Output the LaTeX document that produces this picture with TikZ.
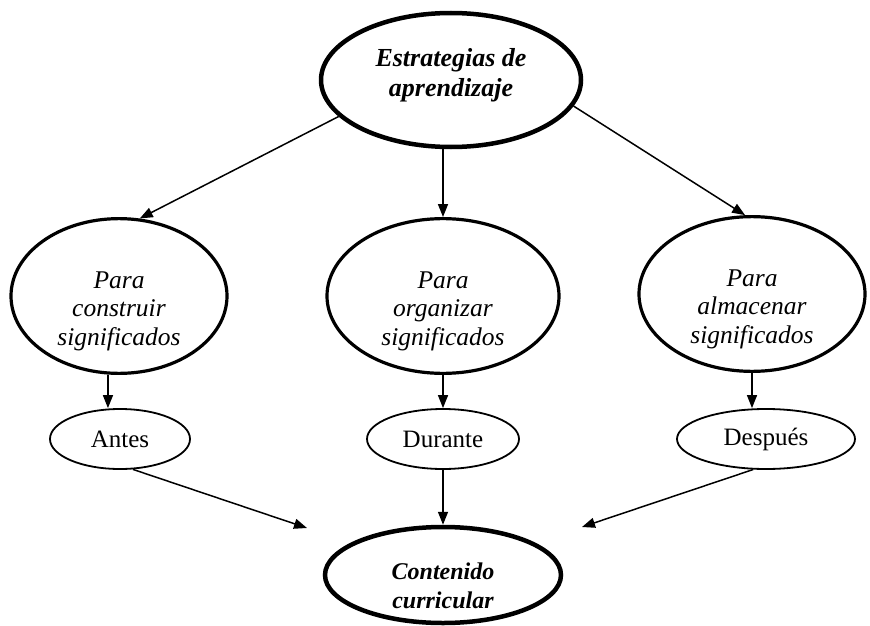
\documentclass[tikz,border=0pt]{standalone}
\usepackage{fontspec}
\setmainfont{Liberation Serif}
\usetikzlibrary{shapes.geometric,arrows.meta}

\tikzset{
  bigell/.style={draw, ellipse, line width=4.5pt, inner sep=0pt, align=center,
    font=\fontsize{26}{29.5}\selectfont\bfseries\itshape},
  midell/.style={draw, ellipse, line width=3.2pt, inner sep=0pt, align=center,
    minimum height=132pt, font=\fontsize{25.5}{28.5}\selectfont\itshape},
  smallell/.style={draw, ellipse, line width=1.8pt, inner sep=0pt,
    minimum height=60pt, font=\fontsize{25}{30}\selectfont},
  arr/.style={-{Triangle[length=13pt,width=10pt]}, line width=1.5pt}
}

\begin{document}
\begin{tikzpicture}[x=1pt,y=-1pt]
    \useasboundingbox (0,0) rectangle (870,626);
    \node[bigell, minimum width=260pt, minimum height=134pt] (estr) at (451,80) {Estrategias de\\aprendizaje\rule[-15pt]{0pt}{15pt}};
    \node[midell, minimum width=216pt] (constr) at (119,296) {\rule{0pt}{47pt}Para\\construir\\significados};
    \node[midell, minimum width=232pt] (organ) at (443,296) {\rule{0pt}{47pt}Para\\organizar\\significados};
    \node[midell, minimum width=226pt] (almac) at (752,294) {\rule{0pt}{47pt}Para\\almacenar\\significados};
    \node[smallell, minimum width=140pt] (antes) at (120,439) {Antes};
    \node[smallell, minimum width=152pt] (durante) at (443,439) {Durante};
    \node[smallell, minimum width=178pt] (desp) at (766,439) {Después};
    \node[bigell, minimum width=236pt, minimum height=96pt, font=\fontsize{24}{29}\selectfont\bfseries\itshape] (cont) at (443,575) {\rule{0pt}{38pt}Contenido\\curricular};
    \coordinate (finl) at (307,528);
    \coordinate (finr) at (582,527);
    \draw[arr] (estr.198) -- (constr.75);
    \draw[arr] (estr.south -| organ.north) -- (organ.north);
    \draw[arr] (estr.-12) -- (almac.95);
    \draw[arr] (constr.-98) -- (constr.-98 |- antes.north);
    \draw[arr] (organ) -- (durante);
    \draw[arr] (almac.south) -- (almac.south |- desp.north);
    \draw[arr] (antes.-67) -- (finl);
    \draw[arr] (durante) -- (cont);
    \draw[arr] (desp.-113) -- (finr);
\end{tikzpicture}
\end{document}
